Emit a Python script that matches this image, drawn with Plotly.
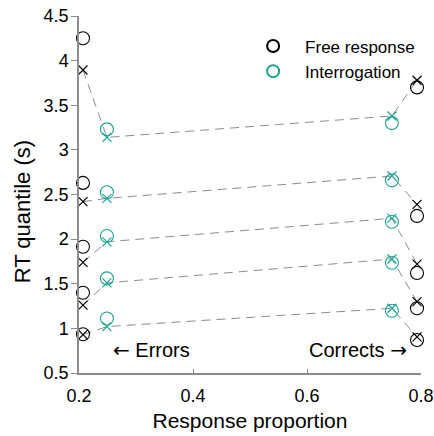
import plotly.graph_objects as go

# x positions (response proportion)
fr_x_err, fr_x_cor = 0.207, 0.793
it_x_err, it_x_cor = 0.249, 0.749

# Free response: circles (data) and crosses (model)
fr_err_data = [4.25, 2.63, 1.915, 1.40, 0.935]
fr_cor_data = [3.70, 2.26, 1.62, 1.225, 0.87]
fr_err_model = [3.895, 2.42, 1.74, 1.26, 0.93]
fr_cor_model = [3.78, 2.39, 1.72, 1.30, 0.905]

# Interrogation: circles (data) and crosses (model)
it_err_data = [3.23, 2.525, 2.035, 1.56, 1.11]
it_cor_data = [3.30, 2.66, 2.195, 1.736, 1.198]
it_err_model = [3.14, 2.457, 1.97, 1.51, 1.02]
it_cor_model = [3.38, 2.707, 2.233, 1.777, 1.225]

x_ticks = [0.2, 0.4, 0.6, 0.8]
x_tick_labels = ["0.2", "0.4", "0.6", "0.8"]
y_ticks = [0.5, 1, 1.5, 2, 2.5, 3, 3.5, 4, 4.5]
y_tick_labels = ["0.5", "1", "1.5", "2", "2.5", "3", "3.5", "4", "4.5"]

BLACK = "#000000"
TEAL = "#1aa394"
GRAY = "#8c8c8c"
FONT = "Liberation Sans, Arial, sans-serif"
ARROWFONT = "DejaVu Sans"

fig = go.Figure()

# dashed model lines for each quantile
for i in range(len(fr_err_model)):
    fig.add_trace(go.Scatter(
        x=[fr_x_err, it_x_err, it_x_cor, fr_x_cor],
        y=[fr_err_model[i], it_err_model[i], it_cor_model[i], fr_cor_model[i]],
        mode="lines", line=dict(color=GRAY, width=1, dash="9px,6px"),
        showlegend=False, hoverinfo="skip"))

# crosses (model)
fig.add_trace(go.Scatter(
    x=[fr_x_err] * 5 + [fr_x_cor] * 5, y=fr_err_model + fr_cor_model,
    mode="markers", marker=dict(symbol="x-thin-open", size=9, color=BLACK,
                                line=dict(color=BLACK, width=1.2)),
    showlegend=False))
fig.add_trace(go.Scatter(
    x=[it_x_err] * 5 + [it_x_cor] * 5, y=it_err_model + it_cor_model,
    mode="markers", marker=dict(symbol="x-thin-open", size=9, color=TEAL,
                                line=dict(color=TEAL, width=1.2)),
    showlegend=False))

# circles (data)
fig.add_trace(go.Scatter(
    x=[fr_x_err] * 5 + [fr_x_cor] * 5, y=fr_err_data + fr_cor_data,
    mode="markers", name="Free response",
    marker=dict(symbol="circle-open", size=13, color=BLACK, line=dict(width=1.1))))
fig.add_trace(go.Scatter(
    x=[it_x_err] * 5 + [it_x_cor] * 5, y=it_err_data + it_cor_data,
    mode="markers", name="Interrogation",
    marker=dict(symbol="circle-open", size=13, color=TEAL, line=dict(width=1.1))))

fig.add_annotation(x=0.2, xref="x", xshift=32, y=0.76, yref="y",
                   text=f'<span style="font-family:{ARROWFONT}">←</span> Errors',
                   showarrow=False, xanchor="left",
                   font=dict(family=FONT, size=20, color="#000"))
fig.add_annotation(x=0.8, xref="x", xshift=-12, y=0.76, yref="y",
                   text=f'Corrects <span style="font-family:{ARROWFONT}">→</span>',
                   showarrow=False, xanchor="right",
                   font=dict(family=FONT, size=20, color="#000"))

# y axis title placed as rotated text
fig.add_annotation(x=0, xref="paper", xshift=-57, y=2.3, yref="y",
                   text="RT quantile (s)", textangle=-90, showarrow=False,
                   xanchor="center", yanchor="middle",
                   font=dict(family=FONT, size=22, color="#000"))

fig.update_layout(
    width=434, height=436,
    margin=dict(l=79, r=13, t=16, b=63),
    paper_bgcolor="white", plot_bgcolor="white",
    font=dict(family=FONT, size=18, color="#000"),
    legend=dict(x=0.474, y=0.965, xanchor="left", yanchor="top",
                bgcolor="rgba(0,0,0,0)", font=dict(size=17), itemwidth=54,
                itemsizing="constant", tracegroupgap=0),
    xaxis=dict(range=[0.2, 0.8], tickvals=x_ticks, ticktext=x_tick_labels,
               showgrid=False, zeroline=False, showline=True, linecolor=GRAY, linewidth=1.5,
               ticks="inside", ticklen=4, tickcolor=GRAY, automargin=False,
               ticklabelstandoff=6,
               title=dict(text="Response proportion", font=dict(size=21), standoff=8)),
    yaxis=dict(range=[0.5, 4.5], tickvals=y_ticks, ticktext=y_tick_labels,
               showgrid=False, zeroline=False, showline=True, linecolor=GRAY, linewidth=1.5,
               ticks="outside", ticklen=6, tickcolor=GRAY, automargin=False,
               ticklabelstandoff=-1),
)
for tr in fig.data:
    tr.cliponaxis = False

fig.write_html("out.html")
